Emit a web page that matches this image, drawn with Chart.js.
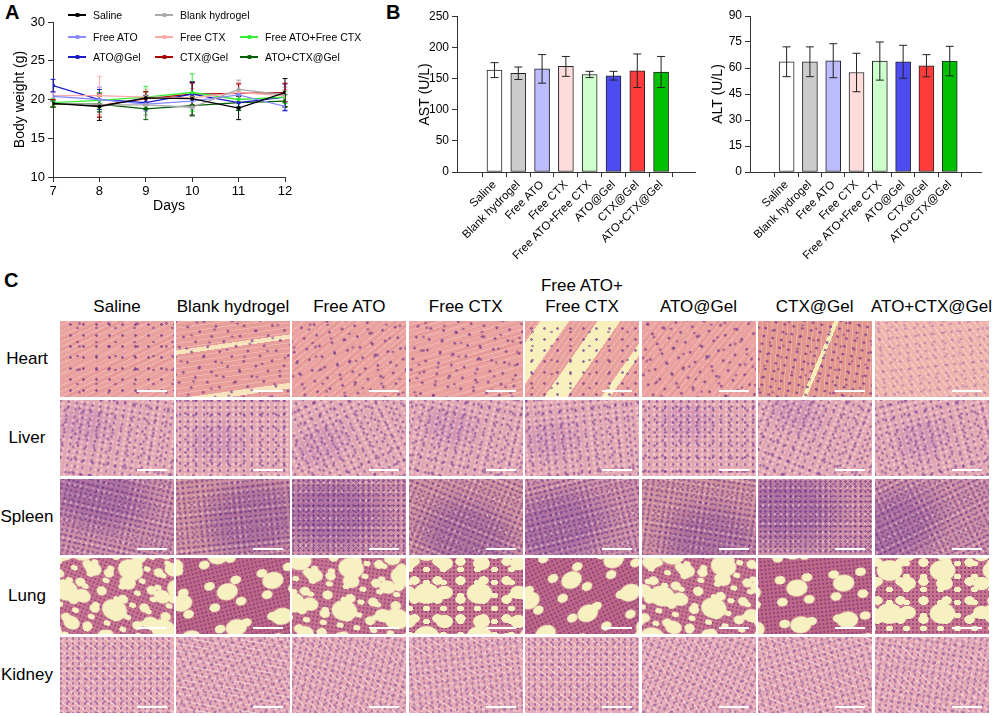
<!DOCTYPE html>
<html>
<head>
<meta charset="utf-8">
<script src="https://cdn.jsdelivr.net/npm/chart.js@4.4.0/dist/chart.umd.min.js"></script>
<style>
  html,body{margin:0;padding:0;background:#fff;}
  #wrap{position:relative;width:996px;height:716px;overflow:hidden;font-family:"Liberation Sans",Arial,sans-serif;color:#000;}
  canvas{position:absolute;}
  .plabel{position:absolute;font-weight:bold;font-size:20px;line-height:20px;}
  .leg{position:absolute;font-size:10.5px;line-height:12px;white-space:nowrap;}
  .leg i{position:absolute;top:5px;width:18px;height:1.5px;}
  .leg b{position:absolute;top:3.5px;left:7px;width:4.5px;height:4.5px;border-radius:50%;}
  .colh{position:absolute;width:130px;text-align:center;font-size:17px;line-height:20.5px;white-space:nowrap;}
  .rowh{position:absolute;width:54px;text-align:center;font-size:17px;line-height:20px;}
  .tile{position:absolute;width:114px;height:76px;overflow:hidden;}
  .tile .tex{position:absolute;left:-35px;top:-35px;width:184px;height:146px;}
  .tile .sb{position:absolute;right:7px;bottom:5px;width:30px;height:2px;background:#fff;}
  .heart .tex{background:
    radial-gradient(circle, rgba(105,45,135,.7) 0 1px, transparent 1.6px) 0 0/13px 11px,
    radial-gradient(circle, rgba(105,45,135,.55) 0 1px, transparent 1.6px) 5px 7px/19px 14px,
    radial-gradient(circle, rgba(105,45,135,.5) 0 1.1px, transparent 1.7px) 11px 3px/29px 23px,
    repeating-linear-gradient(155deg, rgba(255,236,215,.28) 0 1px, transparent 1px 5px),
    repeating-linear-gradient(155deg, rgba(200,90,100,.14) 0 2px, transparent 2px 9px),
    #eaa3a0;}
  .heart.v1 .tex{background:
    radial-gradient(circle, rgba(105,45,135,.7) 0 1px, transparent 1.6px) 0 0/13px 11px,
    radial-gradient(circle, rgba(105,45,135,.55) 0 1px, transparent 1.6px) 5px 7px/19px 14px,
    linear-gradient(150deg, transparent 0 40%, rgba(250,240,195,.85) 40% 42%, transparent 42% 62%, rgba(250,240,195,.85) 62% 64.5%, transparent 64.5%),
    repeating-linear-gradient(150deg, rgba(255,236,215,.3) 0 1px, transparent 1px 5px),
    #e89e9b;}
  .heart.v4 .tex{background:
    radial-gradient(circle, rgba(105,45,135,.65) 0 1px, transparent 1.6px) 0 0/13px 11px,
    radial-gradient(circle, rgba(105,45,135,.5) 0 1px, transparent 1.6px) 5px 7px/19px 14px,
    linear-gradient(125deg, transparent 0 22%, #f7f0bd 22% 32%, transparent 32% 42%, #f7f0bd 42% 50%, transparent 50% 62%, #f7f0bd 62% 65%, transparent 65%),
    repeating-linear-gradient(125deg, rgba(255,236,215,.3) 0 1px, transparent 1px 5px),
    #e9a19e;}
  .heart.v6 .tex{background:
    radial-gradient(circle, rgba(105,45,135,.75) 0 1px, transparent 1.6px) 0 0/9px 8px,
    radial-gradient(circle, rgba(105,45,135,.55) 0 1px, transparent 1.6px) 4px 3px/14px 12px,
    linear-gradient(100deg, transparent 0 48%, #f6efba 48% 50%, transparent 50%),
    repeating-linear-gradient(80deg, rgba(255,236,215,.3) 0 1px, transparent 1px 5px),
    #e29690;}
  .heart.v7 .tex{background:
    radial-gradient(circle, rgba(150,80,160,.45) 0 1px, transparent 1.6px) 0 0/9px 8px,
    radial-gradient(circle, rgba(150,80,160,.35) 0 1px, transparent 1.6px) 4px 5px/13px 11px,
    repeating-linear-gradient(60deg, rgba(255,245,230,.4) 0 1px, transparent 1px 5px),
    #efb3ae;}
  .liver .tex{background:
    radial-gradient(circle, rgba(100,45,140,.55) 0 1px, transparent 1.6px) 0 0/8px 7px,
    radial-gradient(circle, rgba(100,45,140,.5) 0 1px, transparent 1.6px) 3px 5px/11px 13px,
    radial-gradient(circle, rgba(100,45,140,.45) 0 1.1px, transparent 1.7px) 7px 2px/17px 15px,
    radial-gradient(circle, rgba(255,240,230,.4) 0 1.3px, transparent 1.9px) 2px 1px/6px 5px,
    radial-gradient(ellipse at 40% 45%, rgba(160,90,175,.22) 0 10%, transparent 22%),
    #e2a6b2;}
  .spleen .tex{background:
    radial-gradient(circle, rgba(85,35,125,.5) 0 1px, transparent 1.5px) 0 0/5px 5px,
    radial-gradient(circle, rgba(85,35,125,.4) 0 1px, transparent 1.5px) 2px 1px/7px 6px,
    radial-gradient(circle, rgba(255,238,225,.45) 0 1px, transparent 1.6px) 1px 3px/6px 9px,
    radial-gradient(ellipse at 35% 45%, rgba(120,60,150,.35) 0 18%, transparent 38%),
    #cf8fa6;}
  .spleen.v1 .tex{background:
    radial-gradient(circle, rgba(85,35,125,.5) 0 1px, transparent 1.5px) 0 0/5px 5px,
    radial-gradient(circle, rgba(85,35,125,.4) 0 1px, transparent 1.5px) 2px 1px/7px 6px,
    radial-gradient(circle, rgba(255,238,225,.45) 0 1px, transparent 1.6px) 1px 3px/6px 9px,
    radial-gradient(ellipse at 62% 62%, rgba(120,60,150,.35) 0 18%, transparent 38%),
    #d3929f;}
  .lung .tex{background:
    radial-gradient(ellipse, #f7f1c2 0 28%, transparent 32%) 4px 10px/17px 13px,
    radial-gradient(ellipse, #f7f1c2 0 30%, transparent 34%) 0 0/23px 19px,
    radial-gradient(ellipse, #f7f1c2 0 30%, transparent 34%) 9px 6px/37px 29px,
    radial-gradient(ellipse, #f7f1c2 0 32%, transparent 36%) 20px 15px/53px 43px,
    radial-gradient(circle, rgba(90,35,115,.45) 0 0.9px, transparent 1.4px) 0 0/4px 4px,
    #c9738f;}
  .lung.v1 .tex{background:
    radial-gradient(ellipse, #f7f1c2 0 26%, transparent 30%) 4px 3px/27px 22px,
    radial-gradient(ellipse, #f7f1c2 0 30%, transparent 34%) 17px 12px/47px 37px,
    radial-gradient(circle, rgba(90,35,115,.5) 0 0.9px, transparent 1.4px) 0 0/4px 4px,
    #c06787;}
  .kidney .tex{background:
    radial-gradient(circle, rgba(100,45,140,.45) 0 1px, transparent 1.5px) 0 0/6px 5px,
    radial-gradient(circle, rgba(100,45,140,.4) 0 1px, transparent 1.5px) 3px 2px/9px 11px,
    repeating-linear-gradient(35deg, rgba(255,242,228,.45) 0 1.2px, transparent 1.2px 7px),
    repeating-linear-gradient(-50deg, rgba(255,242,228,.3) 0 1px, transparent 1px 10px),
    #e6a9b6;}
</style>
</head>
<body>
<div id="wrap">
  <div class="plabel" style="left:5px;top:2px;">A</div>
  <div class="plabel" style="left:386px;top:2px;">B</div>
  <div class="plabel" style="left:4px;top:270px;">C</div>
  <canvas id="cA" width="330" height="225" style="left:0;top:0;width:330px;height:225px;"></canvas>
  <canvas id="cAST" width="320" height="262" style="left:380px;top:0;width:320px;height:262px;"></canvas>
  <canvas id="cALT" width="296" height="262" style="left:700px;top:0;width:296px;height:262px;"></canvas>
  <div id="legendA"></div>
  <div id="panelC"></div>
</div>
<script>
// ---------- Panel A data ----------
const days = [7, 8, 9, 10, 11, 12];
const groups = ["Saline", "Blank hydrogel", "Free ATO", "Free CTX", "Free ATO+Free CTX", "ATO@Gel", "CTX@Gel", "ATO+CTX@Gel"];
const weightSaline   = [19.5, 19.1, 20.2, 20.1, 18.9, 20.9];
const weightBlank    = [19.5, 19.3, 19.3, 19.0, 21.3, 20.6];
const weightFreeATO  = [20.4, 20.0, 19.4, 19.8, 20.6, 19.1];
const weightFreeCTX  = [20.5, 20.5, 20.3, 20.2, 20.9, 20.5];
const weightFreeBoth = [19.6, 19.9, 20.3, 20.9, 20.0, 20.3];
const weightATOGel   = [21.8, 20.0, 19.6, 20.7, 19.6, 20.3];
const weightCTXGel   = [19.5, 19.2, 20.1, 20.7, 20.8, 20.9];
const weightBothGel  = [19.4, 19.4, 18.8, 19.2, 19.6, 19.8];
const errSaline   = [0.4, 1.8, 0.8, 2.2, 1.5, 1.8];
const errBlank    = [0.4, 1.5, 1.3, 1.2, 1.2, 1.0];
const errFreeATO  = [0.5, 1.6, 0.9, 1.0, 1.5, 0.6];
const errFreeCTX  = [0.5, 2.5, 1.0, 1.2, 1.3, 0.8];
const errFreeBoth = [0.5, 1.0, 1.4, 2.4, 1.2, 0.8];
const errATOGel   = [0.8, 1.3, 0.9, 1.5, 1.0, 1.7];
const errCTXGel   = [0.5, 1.5, 0.9, 1.4, 1.2, 1.2];
const errBothGel  = [0.4, 1.0, 1.4, 1.2, 1.0, 0.8];
const weightTicks = [10, 15, 20, 25, 30];

// ---------- Panel B data ----------
const astMean = [164, 159, 166, 170, 157, 155, 163, 161];
const astErr  = [12, 10, 23, 16, 5, 7, 27, 25];
const altMean = [63.6, 63.6, 64.2, 57.4, 64.0, 63.6, 61.3, 64.0];
const altErr  = [8.6, 8.6, 9.8, 11.1, 11.0, 9.5, 6.4, 8.5];
const astTicks = [0, 50, 100, 150, 200, 250];
const altTicks = [0, 15, 30, 45, 60, 75, 90];

// ---------- Panel C labels ----------
const tissues = ["Heart", "Liver", "Spleen", "Lung", "Kidney"];
const colHeaders = ["Saline", "Blank hydrogel", "Free ATO", "Free CTX", "Free ATO+<br>Free CTX", "ATO@Gel", "CTX@Gel", "ATO+CTX@Gel"];

// ---------- styles ----------
const lineColors = ["#000000", "#a8a8a8", "#8a8aff", "#ffa8a8", "#33ee33", "#1a1ac8", "#a80000", "#005e00"];
const barColors  = ["#ffffff", "#cccccc", "#bcbcff", "#ffdcdc", "#ccffcc", "#4c4cf0", "#ff3c3c", "#00c000"];
const FONT = "'Liberation Sans', Arial, sans-serif";
Chart.defaults.font.family = FONT;
Chart.defaults.color = "#000";
Chart.defaults.animation = false;

const axisCommon = {
  grid: { display: true, drawOnChartArea: false, drawTicks: true, tickLength: 5, color: "#333", lineWidth: 1 },
  border: { display: true, color: "#333", width: 1 }
};

function errorBarPlugin(id, when, capHalf, lineW, useDatasetColor) {
  const fn = (chart) => {
    const ctx = chart.ctx;
    const ys = chart.scales.y;
    chart.data.datasets.forEach((ds, di) => {
      const meta = chart.getDatasetMeta(di);
      if (!ds.errors) return;
      ctx.save();
      ctx.strokeStyle = useDatasetColor ? ds.borderColor : "#222";
      ctx.lineWidth = lineW;
      meta.data.forEach((el, i) => {
        const v = typeof ds.data[i] === "object" ? ds.data[i].y : ds.data[i];
        const e = ds.errors[i];
        const x = el.x;
        const yt = ys.getPixelForValue(v + e);
        const yb = ys.getPixelForValue(v - e);
        ctx.beginPath();
        ctx.moveTo(x, yt); ctx.lineTo(x, yb);
        ctx.moveTo(x - capHalf, yt); ctx.lineTo(x + capHalf, yt);
        ctx.moveTo(x - capHalf, yb); ctx.lineTo(x + capHalf, yb);
        ctx.stroke();
      });
      ctx.restore();
    });
  };
  const p = { id: id };
  p[when] = fn;
  return p;
}

// ---------- Panel A chart ----------
const weightSeries = [weightSaline, weightBlank, weightFreeATO, weightFreeCTX, weightFreeBoth, weightATOGel, weightCTXGel, weightBothGel];
const weightErrors = [errSaline, errBlank, errFreeATO, errFreeCTX, errFreeBoth, errATOGel, errCTXGel, errBothGel];

new Chart(document.getElementById("cA"), {
  type: "line",
  data: {
    datasets: groups.map((g, gi) => ({
      label: g,
      data: days.map((d, i) => ({ x: d, y: weightSeries[gi][i] })),
      errors: weightErrors[gi],
      borderColor: lineColors[gi],
      backgroundColor: lineColors[gi],
      borderWidth: 1.3,
      pointRadius: 2,
      pointBorderWidth: 0,
      tension: 0
    }))
  },
  options: {
    responsive: false,
    devicePixelRatio: 1,
    layout: { padding: { left: 8, right: 45, top: 22, bottom: 6.5 } },
    plugins: { legend: { display: false }, tooltip: { enabled: false } },
    scales: {
      x: Object.assign({}, axisCommon, {
        type: "linear", min: 7, max: 12,
        afterBuildTicks: s => { s.ticks = days.map(d => ({ value: d })); },
        afterFit: s => { s.height = 41.5; },
        ticks: { font: { size: 13 }, padding: 2 },
        title: { display: true, text: "Days", font: { size: 14 }, padding: { top: 0, bottom: 4 } }
      }),
      y: Object.assign({}, axisCommon, {
        min: 10, max: 30,
        afterBuildTicks: s => { s.ticks = weightTicks.map(v => ({ value: v })); },
        afterFit: s => { s.width = 45; },
        ticks: { font: { size: 13 }, padding: 3 },
        title: { display: true, text: "Body weight (g)", font: { size: 14 }, padding: { top: 4, bottom: 4 } }
      })
    }
  },
  plugins: [errorBarPlugin("ebA", "beforeDatasetsDraw", 2.5, 1, true)]
});

// legend for panel A
(function () {
  const pos = [
    [68, 9], [155, 9],
    [68, 31], [155, 31], [240, 31],
    [68, 51], [155, 51], [240, 51]
  ];
  const lg = document.getElementById("legendA");
  groups.forEach((g, i) => {
    const d = document.createElement("div");
    d.className = "leg";
    d.style.left = pos[i][0] + "px";
    d.style.top = pos[i][1] + "px";
    d.innerHTML = '<i style="left:0;background:' + lineColors[i] + '"></i><b style="background:' + lineColors[i] + '"></b><span style="position:relative;left:25px">' + g + '</span>';
    lg.appendChild(d);
  });
})();

// ---------- Panel B charts ----------
function barChart(canvasId, means, errs, ticks, maxV, title, padLeft, padRight, padTop, xMax) {
  new Chart(document.getElementById(canvasId), {
    type: "bar",
    data: {
      datasets: [{
        data: groups.map((g, i) => ({ x: i, y: means[i] })),
        errors: errs,
        backgroundColor: barColors,
        borderColor: "#222",
        borderWidth: 1,
        borderSkipped: false,
        barThickness: 15
      }]
    },
    options: {
      responsive: false,
      devicePixelRatio: 1,
      layout: { padding: { left: padLeft, right: padRight, top: padTop, bottom: 0 } },
      plugins: { legend: { display: false }, tooltip: { enabled: false } },
      scales: {
        x: Object.assign({}, axisCommon, {
          type: "linear", min: -0.95, max: xMax,
          afterBuildTicks: s => { s.ticks = groups.map((g, i) => ({ value: i })); },
          afterFit: s => { s.height = 90; },
          ticks: {
            font: { size: 11.5 }, maxRotation: 45, minRotation: 45, autoSkip: false, padding: 1,
            callback: v => groups[v]
          }
        }),
        y: Object.assign({}, axisCommon, {
          min: 0, max: maxV,
          afterBuildTicks: s => { s.ticks = ticks.map(v => ({ value: v })); },
          afterFit: s => { s.width = 44; },
          ticks: { font: { size: 12 }, padding: 3 },
          title: { display: true, text: title, font: { size: 14 }, padding: { top: 4, bottom: 4 } }
        })
      }
    },
    plugins: [errorBarPlugin("eb" + canvasId, "afterDatasetsDraw", 4, 1, false)]
  });
}
barChart("cAST", astMean, astErr, astTicks, 250, "AST (U/L)", 33, 5, 16.7, 7.8);
barChart("cALT", altMean, altErr, altTicks, 90, "ALT (U/L)", 6, 14.3, 16, 7.75);

// ---------- Panel C grid ----------
(function () {
  const pc = document.getElementById("panelC");
  const colX = [60, 176, 292.3, 408.7, 525, 641.5, 757.7, 874.5];
  const rowY = [321, 400, 479, 557.5, 636.7];
  const angles = [0, 22, -14, 9, 0, -26, 13, -6];
  const shifts = [[0, 0], [-11, 7], [6, -9], [-4, -13], [9, 4], [-13, -3], [3, 11], [-7, 5]];
  const variants = {
    "0,1": "v1", "0,4": "v4", "0,6": "v6", "0,7": "v7",
    "2,1": "v1", "2,3": "v1", "2,5": "v1",
    "3,1": "v1", "3,4": "v1", "3,6": "v1"
  };
  colHeaders.forEach((h, c) => {
    const d = document.createElement("div");
    d.className = "colh";
    d.style.left = (colX[c] + 57 - 65) + "px";
    const two = h.indexOf("<br>") >= 0;
    d.style.top = (two ? 276 : 296.5) + "px";
    d.innerHTML = h;
    pc.appendChild(d);
  });
  tissues.forEach((t, r) => {
    const lab = document.createElement("div");
    lab.className = "rowh";
    lab.style.left = "0px";
    lab.style.top = (rowY[r] + 38 - 10) + "px";
    lab.textContent = t;
    pc.appendChild(lab);
    colHeaders.forEach((h, c) => {
      const d = document.createElement("div");
      const v = variants[r + "," + c] || "";
      d.className = "tile " + t.toLowerCase() + (v ? " " + v : "");
      d.style.left = colX[c] + "px";
      d.style.top = rowY[r] + "px";
      const a = angles[(c + r * 3) % 8];
      const s = shifts[(c + r * 5) % 8];
      d.innerHTML = '<div class="tex" style="transform:translate(' + s[0] + 'px,' + s[1] + 'px) rotate(' + a + 'deg)"></div><div class="sb"></div>';
      pc.appendChild(d);
    });
  });
})();
</script>
</body>
</html>
